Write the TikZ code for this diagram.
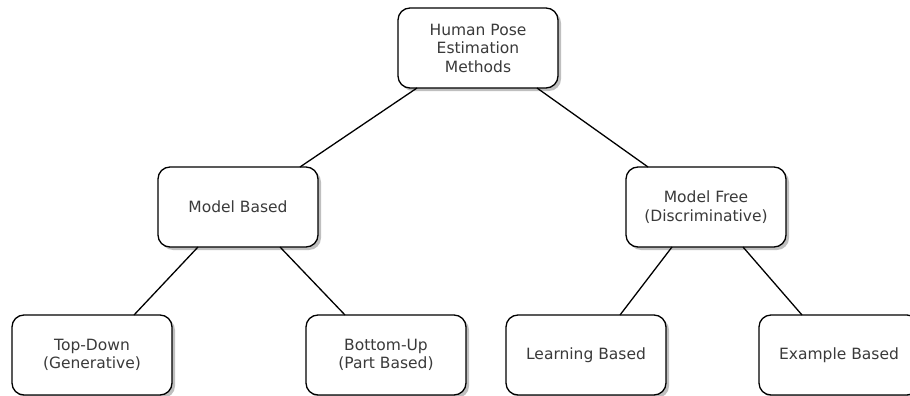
\documentclass[tikz,border=0pt]{standalone}
\usepackage{fontspec}
\setmainfont{DejaVu Sans}
\usetikzlibrary{shadows}
\definecolor{txt}{HTML}{3A3A3A}
\tikzset{
  box/.style={draw=black, fill=white, rectangle, rounded corners=12pt,
    line width=1.3pt, minimum width=160pt, minimum height=80pt,
    inner sep=0pt, outer sep=0pt, align=center, text=txt,
    font=\fontsize{15.5}{18.5}\selectfont,
    drop shadow={shadow xshift=3pt, shadow yshift=-3pt, fill=black, opacity=0.25}},
  link/.style={draw=black, line width=1.3pt}
}
\begin{document}
\begin{tikzpicture}[x=1pt,y=-1pt]
  \useasboundingbox (0,0) rectangle (910,396);
  \clip (0,0) rectangle (910,396);
  % tree of nodes
  \node[box] (root) at (478,48) {Human Pose\\Estimation\\Methods};
  \node[box] (mb) at (238,207) {Model Based};
  \node[box] (mf) at (706,207) {Model Free\\(Discriminative)};
  \node[box] (td) at (92,355) {Top-Down\\(Generative)};
  \node[box] (bu) at (386,355) {Bottom-Up\\(Part Based)};
  \node[box] (lb) at (586,355) {Learning Based};
  \node[box] (eb) at (839,355) {Example Based};
  % connectors
  \draw[link] ([xshift=19pt]root.south west) -- ([xshift=142pt]mb.north west);
  \draw[link] ([xshift=139pt]root.south west) -- ([xshift=22pt]mf.north west);
  \draw[link] ([xshift=40pt]mb.south west) -- ([xshift=122pt]td.north west);
  \draw[link] ([xshift=122pt]mb.south west) -- ([xshift=39pt]bu.north west);
  \draw[link] ([xshift=46pt]mf.south west) -- ([xshift=114pt]lb.north west);
  \draw[link] ([xshift=117pt]mf.south west) -- ([xshift=43pt]eb.north west);
\end{tikzpicture}
\end{document}
